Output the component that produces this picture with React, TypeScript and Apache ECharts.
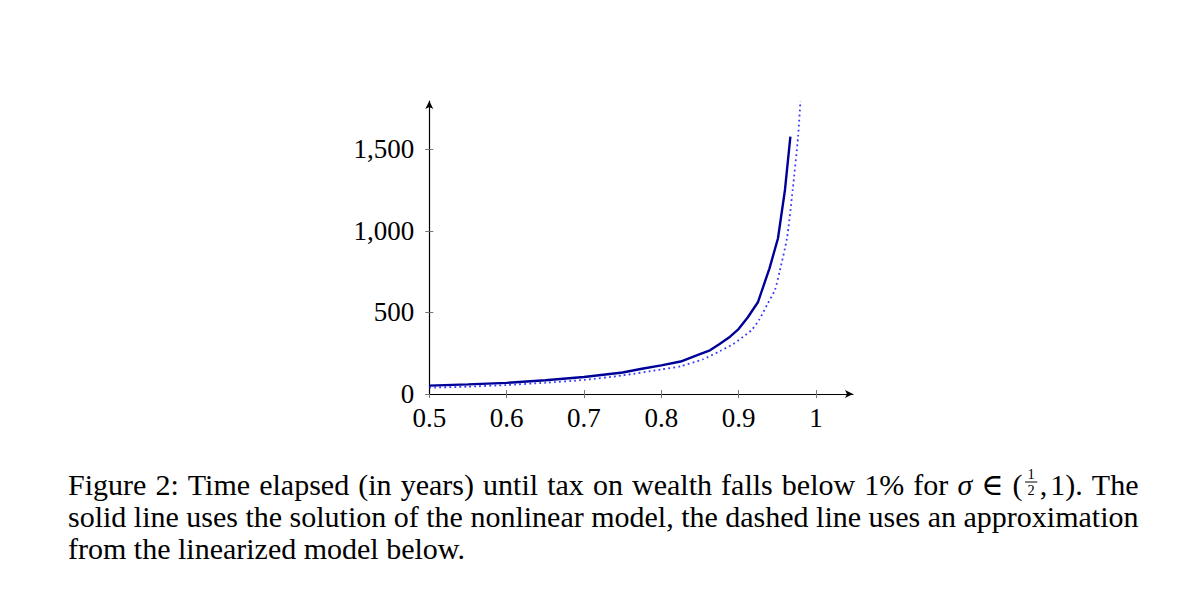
import React, { useEffect, useRef } from "react";
import * as echarts from "echarts";

// ---- data ----
const xTicks = [0.5, 0.6, 0.7, 0.8, 0.9, 1];
const xTickLabels = ["0.5", "0.6", "0.7", "0.8", "0.9", "1"];
const yTicks = [0, 500, 1000, 1500];
const yTickLabels = ["0", "500", "1,000", "1,500"];

// solid line: nonlinear model
const sigmaSolid = [0.5, 0.55, 0.6, 0.65, 0.7, 0.75, 0.775, 0.8, 0.825, 0.85, 0.863, 0.875, 0.889, 0.9, 0.912, 0.925, 0.94, 0.951, 0.96, 0.967];
const timeSolid = [51, 59, 68, 84, 104, 132, 155, 175, 199, 245, 268, 305, 351, 398, 470, 562, 770, 954, 1250, 1577];

// dotted line: linearized approximation
const sigmaDotted = [0.5, 0.55, 0.6, 0.65, 0.7, 0.75, 0.8, 0.825, 0.854, 0.876, 0.893, 0.906, 0.917, 0.927, 0.938, 0.947, 0.953, 0.9626, 0.97, 0.977, 0.98];
const timeDotted = [39, 45, 55, 69, 86, 114, 150, 170, 213, 263, 306, 351, 392, 458, 556, 637, 749, 954, 1250, 1577, 1795];

// caption
const captionLine1 = ["Figure", "2:", "Time", "elapsed", "(in", "years)", "until", "tax", "on", "wealth", "falls", "below", "1%", "for", "σ", "∈", "(½, 1).", "The"];
const captionLine2 = ["solid", "line", "uses", "the", "solution", "of", "the", "nonlinear", "model,", "the", "dashed", "line", "uses", "an", "approximation"];
const captionLine3 = ["from", "the", "linearized", "model", "below."];

const SERIF = '"Liberation Serif", "DejaVu Serif", serif';

function buildCaption(): any[] {
  const canvas = document.createElement("canvas");
  const ctx = canvas.getContext("2d")!;
  const measure = (t: string, fs: number, italic = false) => {
    ctx.font = `${italic ? "italic " : ""}${fs}px ${SERIF}`;
    return ctx.measureText(t).width;
  };
  // fit font so that last line width matches reference
  const natural3 = (fs: number) =>
    captionLine3.reduce((s, w) => s + measure(w, fs), 0) + (captionLine3.length - 1) * measure(" ", fs);
  let fs = 28 * (399 / natural3(28));
  fs = Math.max(26, Math.min(30, fs));
  const fracFs = 14.4;
  const els: any[] = [];
  const x0 = 68;
  const x1 = 1138.5;
  const fracW = () => Math.max(measure("1", fracFs), measure("2", fracFs)) + 5;

  const tokenWidth = (tok: string) => {
    if (tok === "(½, 1).") {
      return measure("(", fs) + 2.5 + fracW() + 2.5 + measure(",", fs) + 3 + measure("1).", fs);
    }
    return measure(tok, fs, tok === "σ");
  };
  const textEl = (x: number, y: number, t: string, size: number, italic = false, extra: any = {}) => ({
    type: "text",
    x,
    y,
    silent: true,
    style: {
      text: t,
      fill: "#000",
      fontSize: size,
      fontFamily: SERIF,
      fontStyle: italic ? "italic" : "normal",
      align: "left",
      verticalAlign: "middle",
      ...extra,
    },
  });
  const drawToken = (tok: string, x: number, b: number) => {
    const ym = b - 0.3375 * fs;
    if (tok === "(½, 1).") {
      let cx = x;
      els.push(textEl(cx, ym, "(", fs));
      cx += measure("(", fs) + 2.5;
      const wf = fracW();
      // stacked fraction 1 over 2 as one two-line text
      els.push(textEl(cx + wf / 2, b - 12.5, "1\n2", fracFs, false, { align: "center", lineHeight: 16.5 }));
      els.push({
        type: "line",
        silent: true,
        shape: { x1: cx, y1: b - 12.5, x2: cx + wf, y2: b - 12.5 },
        style: { stroke: "#000", lineWidth: 1 },
      });
      cx += wf + 2.5;
      els.push(textEl(cx, ym, ",", fs));
      cx += measure(",", fs) + 3;
      els.push(textEl(cx, ym, "1).", fs));
      return;
    }
    els.push(textEl(x, ym, tok, fs, tok === "σ"));
  };
  const layout = (tokens: string[], b: number, justify: boolean) => {
    const widths = tokens.map(tokenWidth);
    const total = widths.reduce((s, w) => s + w, 0);
    const gap = justify ? (x1 - x0 - total) / (tokens.length - 1) : measure(" ", fs);
    let x = x0;
    tokens.forEach((t, i) => {
      drawToken(t, x, b);
      x += widths[i] + gap;
    });
  };
  layout(captionLine1, 494.5, true);
  layout(captionLine2, 526.5, true);
  layout(captionLine3, 558.5, false);
  return els;
}

export default function App() {
  const ref = useRef<HTMLDivElement>(null);
  useEffect(() => {
    if (!ref.current) return;
    const chart = echarts.init(ref.current, null, { renderer: "svg" });
    const labelStyle = { color: "#000", fontSize: 27, fontFamily: SERIF };
    const tickStyle = { color: "#777", width: 1 };
    const solidData = sigmaSolid.map((s, i) => [s, timeSolid[i]]);
    const dottedData = sigmaDotted.map((s, i) => [s, timeDotted[i]]);
    chart.setOption({
      animation: false,
      backgroundColor: "#fff",
      grid: { left: 429.3, right: 1181 - 853, top: 101, bottom: 598 - 394, containLabel: false },
      xAxis: [
        {
          type: "value",
          min: 0.5,
          max: 1.048,
          position: "bottom",
          axisLine: {
            show: true,
            onZero: false,
            lineStyle: { color: "#000", width: 1.2 },
            symbol: ["none", "arrow"],
            symbolSize: [6, 8],
          },
          axisTick: { show: true, inside: false, length: 4, lineStyle: tickStyle, customValues: xTicks },
          axisLabel: {
            show: true,
            ...labelStyle,
            margin: 10,
            customValues: xTicks,
            formatter: (v: number) => {
              const i = xTicks.findIndex((t) => Math.abs(t - v) < 1e-6);
              return i >= 0 ? xTickLabels[i] : "";
            },
          },
          splitLine: { show: false },
        },
        {
          type: "value",
          min: 0.5,
          max: 1.048,
          position: "bottom",
          axisLine: { show: false, onZero: false },
          axisTick: { show: true, inside: true, length: 4, lineStyle: tickStyle, customValues: xTicks.slice(1) },
          axisLabel: { show: false },
          splitLine: { show: false },
        },
      ],
      yAxis: [
        {
          type: "value",
          min: 0,
          max: 1795,
          position: "left",
          axisLine: {
            show: true,
            onZero: false,
            lineStyle: { color: "#000", width: 1.2 },
            symbol: ["none", "arrow"],
            symbolSize: [6, 8],
          },
          axisTick: { show: true, inside: false, length: 4, lineStyle: tickStyle, customValues: yTicks },
          axisLabel: {
            show: true,
            ...labelStyle,
            margin: 15,
            customValues: yTicks,
            formatter: (v: number) => {
              const i = yTicks.findIndex((t) => Math.abs(t - v) < 1e-6);
              return i >= 0 ? yTickLabels[i] : "";
            },
          },
          splitLine: { show: false },
        },
        {
          type: "value",
          min: 0,
          max: 1795,
          position: "left",
          axisLine: { show: false, onZero: false },
          axisTick: { show: true, inside: true, length: 4, lineStyle: tickStyle, customValues: yTicks.slice(1) },
          axisLabel: { show: false },
          splitLine: { show: false },
        },
      ],
      series: [
        {
          type: "line",
          name: "linearized",
          xAxisIndex: 0,
          yAxisIndex: 0,
          data: dottedData,
          showSymbol: false,
          smooth: 0.2,
          lineStyle: { color: "#3a3aff", width: 1.8, type: [1.8, 3.2], cap: "butt" },
          z: 2,
        },
        {
          type: "line",
          name: "nonlinear",
          xAxisIndex: 0,
          yAxisIndex: 0,
          data: solidData,
          showSymbol: false,
          lineStyle: { color: "#000099", width: 2.4 },
          z: 3,
        },
      ],
      graphic: buildCaption(),
    });
    return () => chart.dispose();
  }, []);
  return (
    <div
      ref={ref}
      style={{ position: "fixed", left: 0, top: 0, width: 1181, height: 598, background: "#fff" }}
    />
  );
}
